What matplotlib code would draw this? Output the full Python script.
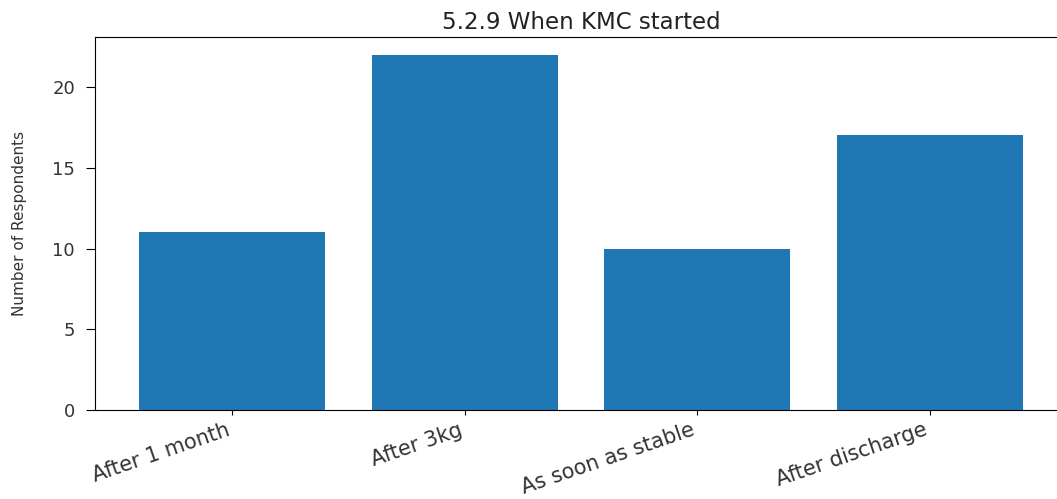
import matplotlib
matplotlib.use('Agg')
import matplotlib.pyplot as plt

# Data
categories = ['After 1 month', 'After 3kg', 'As soon as stable', 'After discharge']
counts = [11, 22, 10, 17]
yticks = [0, 5, 10, 15, 20]

fig = plt.figure(figsize=(10.57, 4.99), dpi=100)
# axes extends slightly past the right edge, like the cropped original
ax = fig.add_axes([0.0899, 0.178, 0.9196, 0.748])

ax.bar(categories, counts, color='#1f77b4', width=0.8)

ax.set_title('5.2.9 When KMC started', fontsize=16.5, color='#222222', pad=6)
ax.set_ylabel('Number of Respondents', fontsize=11, labelpad=18,
              family=['DejaVu Sans Condensed', 'Liberation Sans Narrow', 'DejaVu Sans'],
              color='#333333')
ax.set_yticks(yticks)
ax.tick_params(axis='y', labelsize=13, labelcolor='#333333', length=6.5, pad=8)
ax.tick_params(axis='x', labelsize=15, labelcolor='#333333')
plt.setp(ax.get_xticklabels(), rotation=19, ha='right')

fig.savefig('out.png', dpi=100)
